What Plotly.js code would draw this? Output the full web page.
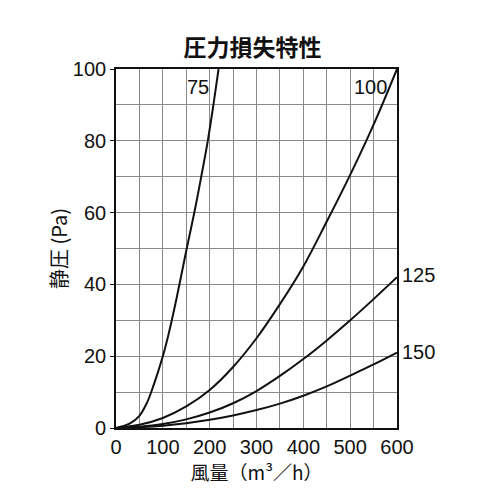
<!DOCTYPE html>
<html>
<head>
<meta charset="utf-8">
<script src="https://cdn.plot.ly/plotly-3.0.1.min.js"></script>
<style>
  html, body { margin: 0; padding: 0; background: #fff; }
  #chart { width: 500px; height: 500px; }
</style>
</head>
<body>
<div id="chart"></div>
<script>
// 風量 (m3/h) と 静圧 (Pa)、ダクト径ごと
var x75 = [0, 30, 50, 66, 80, 100, 112, 125, 137, 151, 168, 182, 196, 208, 219];
var y75 = [0, 1.3, 3.4, 7.0, 11.8, 20, 26, 33.5, 41, 50, 60.5, 70, 80, 90, 100];

var x100 = [0, 50, 100, 150, 200, 250, 300, 350, 400, 450, 500, 550, 600];
var y100 = [0, 0.9, 2.8, 6.0, 10.6, 17.0, 25.0, 34.5, 45, 57.5, 70.5, 84.5, 100];

var x125 = [0, 50, 100, 150, 200, 250, 300, 350, 400, 450, 500, 550, 600];
var y125 = [0, 0.35, 1.1, 2.4, 4.3, 6.9, 10.3, 14.5, 19.2, 24.4, 30.0, 35.9, 42];

var x150 = [0, 50, 100, 150, 200, 250, 300, 350, 400, 450, 500, 550, 600];
var y150 = [0, 0.2, 0.65, 1.35, 2.3, 3.5, 5.0, 6.8, 9.0, 11.6, 14.6, 17.7, 21];

var seriesNames = ['75', '100', '125', '150'];

var lineStyle = { color: '#111', width: 2, shape: 'spline', smoothing: 1 };

var data = [
    { x: x75, y: y75, mode: 'lines', line: lineStyle, name: seriesNames[0] },
    { x: x100, y: y100, mode: 'lines', line: lineStyle, name: seriesNames[1] },
    { x: x125, y: y125, mode: 'lines', line: lineStyle, name: seriesNames[2] },
    { x: x150, y: y150, mode: 'lines', line: lineStyle, name: seriesNames[3] }
];

var tickFont = { family: 'Liberation Sans, Arial, sans-serif', size: 20, color: '#111' };
var jpFont = 'Noto Sans CJK JP, sans-serif';

var layout = {
    width: 500,
    height: 500,
    showlegend: false,
    paper_bgcolor: '#fff',
    plot_bgcolor: '#fff',
    margin: { l: 116, r: 103, t: 69, b: 72 },
    title: {
        text: '圧力損失特性',
        font: { family: jpFont, size: 23, color: '#111', weight: 'bold' },
        x: 0.505, xanchor: 'center',
        y: 0.904, yanchor: 'middle'
    },
    xaxis: {
        range: [0, 600],
        dtick: 100,
        tickfont: tickFont,
        showline: true, mirror: true, linecolor: '#111', linewidth: 1.8,
        showgrid: true, gridcolor: '#8a8a8a', gridwidth: 1,
        minor: { dtick: 50, showgrid: true, gridcolor: '#8a8a8a', gridwidth: 1 },
        zeroline: false,
        ticks: '',
        title: { text: '風量（m³／h）', font: { family: jpFont, size: 19, color: '#111' }, standoff: 6 }
    },
    yaxis: {
        range: [0, 100],
        dtick: 20,
        tickfont: tickFont,
        showline: true, mirror: true, linecolor: '#111', linewidth: 1.8,
        showgrid: true, gridcolor: '#8a8a8a', gridwidth: 1,
        minor: { dtick: 10, showgrid: true, gridcolor: '#8a8a8a', gridwidth: 1 },
        zeroline: false,
        ticks: 'outside', ticklen: 4, tickcolor: '#111',
        title: { text: '静圧 (Pa)', font: { family: jpFont, size: 20, color: '#111' }, standoff: 0 }
    },
    annotations: [
        { x: 176, y: 95, xref: 'x', yref: 'y', text: seriesNames[0], showarrow: false,
          xanchor: 'center', font: tickFont },
        { x: 544, y: 95, xref: 'x', yref: 'y', text: seriesNames[1], showarrow: false,
          xanchor: 'center', font: tickFont },
        { x: 1.075, y: y125[y125.length - 1] + 0.6, xref: 'paper', yref: 'y', text: seriesNames[2],
          showarrow: false, xanchor: 'center', font: tickFont },
        { x: 1.075, y: y150[y150.length - 1] + 0.2, xref: 'paper', yref: 'y', text: seriesNames[3],
          showarrow: false, xanchor: 'center', font: tickFont }
    ]
};

Plotly.newPlot('chart', data, layout, { displayModeBar: false, staticPlot: true });
</script>
</body>
</html>
